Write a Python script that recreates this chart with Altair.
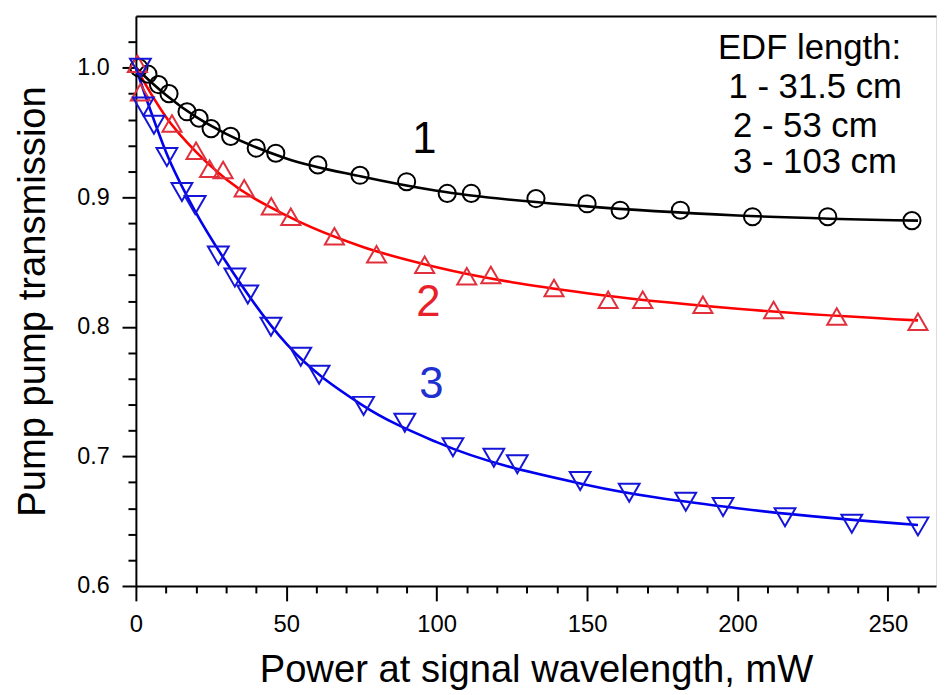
import altair as alt
import pandas as pd

# ---- data ----
s1_x = [1, 4, 7.5, 11, 17, 21, 25, 31.5, 40, 46.5, 60.5, 74.5, 90, 103.5, 111.5, 133, 150, 161, 181, 205, 230, 258]
s1_y = [1.0, 0.995, 0.987, 0.980, 0.966, 0.961, 0.953, 0.947, 0.938, 0.934, 0.925, 0.917, 0.912, 0.903, 0.903, 0.899, 0.895, 0.890, 0.890, 0.885, 0.885, 0.882]

s2_x = [0.5, 1.5, 12, 20, 24.5, 29, 36, 45, 51.5, 66, 80, 96, 110, 118, 139, 157, 168.5, 188.5, 212, 233, 260]
s2_y = [1.003, 0.981, 0.957, 0.936, 0.922, 0.921, 0.907, 0.893, 0.885, 0.870, 0.856, 0.848, 0.839, 0.840, 0.830, 0.821, 0.821, 0.817, 0.813, 0.808, 0.804]

s3_x = [1.5, 2.5, 6, 10.3, 15.3, 19.7, 27.4, 32.9, 37.2, 44.9, 54.8, 60.9, 75.7, 89.4, 105.4, 119, 126.8, 147.7, 164, 182.8, 195.2, 215.8, 238, 260]
s3_y = [1.0, 0.970, 0.956, 0.931, 0.904, 0.894, 0.855, 0.838, 0.825, 0.800, 0.777, 0.763, 0.739, 0.726, 0.707, 0.699, 0.694, 0.681, 0.672, 0.665, 0.661, 0.653, 0.648, 0.646]

fit_x = [0, 5, 10, 20, 30, 50, 75, 100, 150, 200, 260]
fit1_y = [1.0, 0.989, 0.979, 0.962, 0.949, 0.930, 0.916, 0.905, 0.893, 0.886, 0.882]
fit2_y = [1.0, 0.980, 0.962, 0.935, 0.914, 0.886, 0.862, 0.846, 0.826, 0.814, 0.805]
fit3_y = [1.0, 0.966, 0.935, 0.888, 0.850, 0.787, 0.740, 0.711, 0.678, 0.660, 0.647]

series_names = ["1", "2", "3"]
line_colors = ["#000000", "#ff0000", "#0000ee"]
marker_colors = ["#000000", "#e0303c", "#1515d8"]
shapes = ["circle", "triangle-up", "triangle-down"]
marker_sizes = [300, 440, 440]

label_text = ["1", "2", "3"]
label_x = [95.9, 97.2, 98.2]
label_y = [0.944, 0.818, 0.755]
label_colors = ["#000000", "#e8202a", "#2030d0"]

legend_lines = ["EDF length:", "1 - 31.5 cm", "2 - 53 cm", "3 - 103 cm"]
legend_x = [193.5, 197.0, 198.5, 198.5]
legend_y = [1.015, 0.985, 0.955, 0.927]

x_major = [0, 50, 100, 150, 200, 250]
x_minor = [v for v in range(10, 261, 10) if v % 50 != 0]
y_major = [0.6, 0.7, 0.8, 0.9, 1.0]
y_minor = [0.62, 0.64, 0.66, 0.68, 0.72, 0.74, 0.76, 0.78, 0.82, 0.84, 0.86, 0.88, 0.92, 0.94, 0.96, 0.98, 1.02]

X_DOMAIN = [0, 266]
Y_DOMAIN = [0.6, 1.04]
W, H = 807, 575
FONT = "Liberation Sans"

# ---- tables ----
pts = pd.concat([
    pd.DataFrame({"x": s1_x, "y": s1_y, "s": "1"}),
    pd.DataFrame({"x": s2_x, "y": s2_y, "s": "2"}),
    pd.DataFrame({"x": s3_x, "y": s3_y, "s": "3"}),
])
fits = pd.concat([
    pd.DataFrame({"x": fit_x, "y": fit1_y, "s": "1"}),
    pd.DataFrame({"x": fit_x, "y": fit2_y, "s": "2"}),
    pd.DataFrame({"x": fit_x, "y": fit3_y, "s": "3"}),
])
labels = pd.DataFrame({"t": label_text, "x": label_x, "y": label_y, "c": label_colors})
legend = pd.DataFrame({"t": legend_lines, "x": legend_x, "y": legend_y})
dummy = pd.DataFrame({"x": [x_minor[0]], "y": [y_minor[0]]})

xs = alt.Scale(domain=X_DOMAIN, nice=False, zero=False)
ys = alt.Scale(domain=Y_DOMAIN, nice=False, zero=False)

main_x_axis = alt.Axis(values=x_major, title="Power at signal wavelength, mW", orient="bottom",
                       grid=False, tickSize=15, tickWidth=2, domainWidth=2, domainColor="black",
                       tickColor="black", labelFontSize=24, labelPadding=12, labelColor="black",
                       titleFontSize=38.5, titleFontWeight="normal", titlePadding=15, titleColor="black",
                       labelFont=FONT, titleFont=FONT, labelFlush=False)
main_y_axis = alt.Axis(values=y_major, format=".1f", title="Pump pump transmission", orient="left",
                       grid=False, tickSize=14, tickWidth=2, domainWidth=2, domainColor="black",
                       tickColor="black", labelFontSize=23.5, labelPadding=13, labelColor="black",
                       titleFontSize=38.5, titleFontWeight="normal", titlePadding=25, titleColor="black",
                       labelFont=FONT, titleFont=FONT, labelFlush=False)

minor_x_axis = alt.Axis(values=x_minor, orient="bottom", labels=False, title=None, grid=False,
                        domain=False, tickSize=7, tickWidth=2, tickColor="black")
minor_y_axis = alt.Axis(values=y_minor, orient="left", labels=False, title=None, grid=False,
                        domain=False, tickSize=8, tickWidth=2, tickColor="black")
top_x_axis = alt.Axis(orient="top", labels=False, ticks=False, title=None, grid=False,
                      domain=True, domainWidth=2, domainColor="black")

lines = alt.Chart(fits).mark_line(strokeWidth=2.6, interpolate="monotone").encode(
    x=alt.X("x:Q", scale=xs, axis=main_x_axis),
    y=alt.Y("y:Q", scale=ys, axis=main_y_axis),
    color=alt.Color("s:N", scale=alt.Scale(domain=series_names, range=line_colors), legend=None),
    detail="s:N",
)

markers = alt.Chart(pts).mark_point(filled=False, strokeWidth=2, opacity=1).encode(
    x=alt.X("x:Q", scale=xs, axis=None),
    y=alt.Y("y:Q", scale=ys, axis=None),
    stroke=alt.Stroke("s:N", scale=alt.Scale(domain=series_names, range=marker_colors), legend=None),
    shape=alt.Shape("s:N", scale=alt.Scale(domain=series_names, range=shapes), legend=None),
    size=alt.Size("s:N", scale=alt.Scale(domain=series_names, range=marker_sizes), legend=None),
)

num_labels = alt.Chart(labels).mark_text(fontSize=44, font=FONT, align="center", baseline="middle").encode(
    x=alt.X("x:Q", scale=xs, axis=None),
    y=alt.Y("y:Q", scale=ys, axis=None),
    text="t:N",
    color=alt.Color("c:N", scale=None),
)

legend_text = alt.Chart(legend).mark_text(fontSize=35, font=FONT, align="left", baseline="middle",
                                          color="black").encode(
    x=alt.X("x:Q", scale=xs, axis=None),
    y=alt.Y("y:Q", scale=ys, axis=None),
    text="t:N",
)

minor_ticks = alt.Chart(dummy).mark_point(opacity=0).encode(
    x=alt.X("x:Q", scale=xs, axis=minor_x_axis),
    y=alt.Y("y:Q", scale=ys, axis=minor_y_axis),
)

top_line = alt.Chart(dummy).mark_point(opacity=0).encode(
    x=alt.X("x:Q", scale=xs, axis=top_x_axis),
    y=alt.Y("y:Q", scale=ys, axis=None),
)

chart = alt.layer(lines, markers, num_labels, legend_text, minor_ticks, top_line).resolve_axis(
    x="independent", y="independent"
).properties(
    width=W, height=H,
    autosize=alt.AutoSizeParams(type="none"),
    padding={"left": 129, "top": 5, "right": 2, "bottom": 108},
).configure_view(stroke=None).configure(background="white")

chart.save("out.html", embed_options={"renderer": "svg", "actions": False})
